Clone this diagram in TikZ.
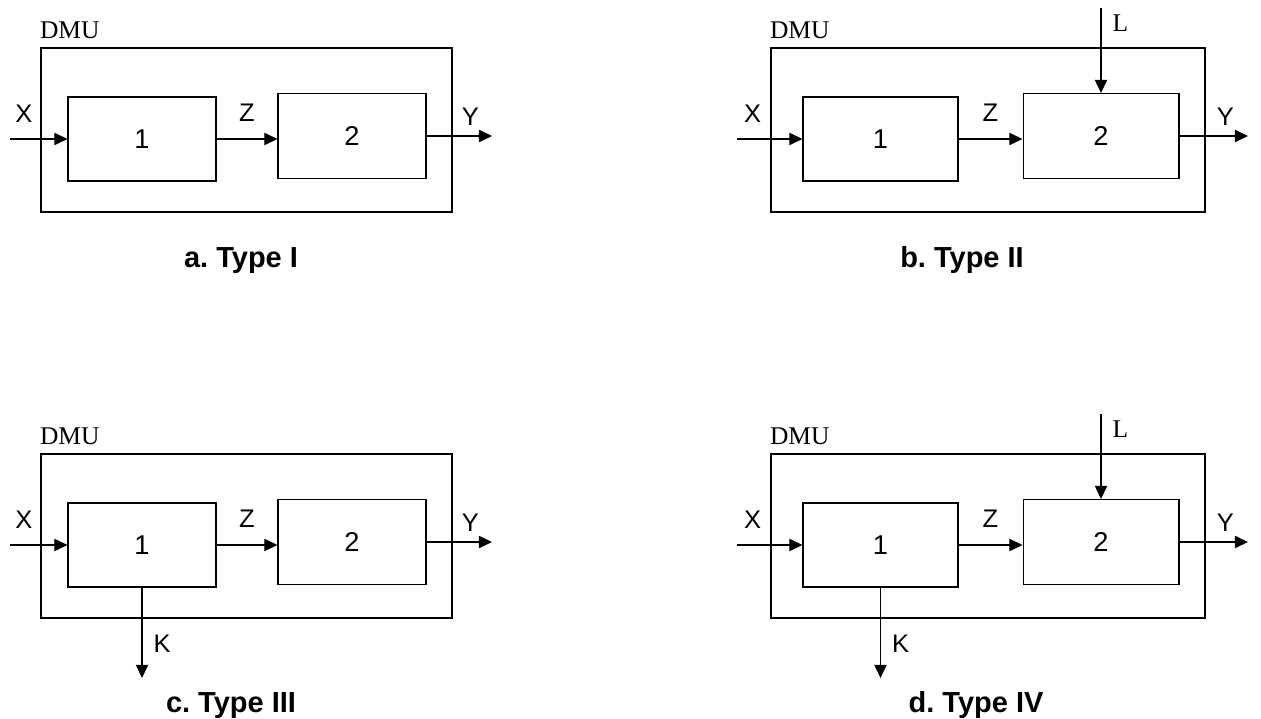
\documentclass[tikz,border=0pt]{standalone}
\usepackage{fontspec}
\setmainfont{Liberation Sans}
\newfontfamily\dmuserif{Liberation Serif}
\usetikzlibrary{arrows.meta, positioning}
\frenchspacing

\begin{document}
\begin{tikzpicture}[
    x=0.02cm, y=-0.02cm,
    dmu/.style={rectangle, draw, line width=1.5pt, minimum height=3.28cm},
    stage/.style={rectangle, draw, line width=0.6pt, font=\fontsize{15.5}{17}\selectfont},
    dmutext/.style={inner sep=0pt, font=\dmuserif\fontsize{14.5}{16}\selectfont},
    flowlbl/.style={inner sep=0pt, font=\fontsize{14.5}{16}\selectfont},
    seriflbl/.style={inner sep=0pt, font=\dmuserif\fontsize{14.5}{16}\selectfont},
    caption/.style={anchor=base, font=\bfseries\fontsize{16.5}{18}\selectfont},
    arrow/.style={-{Triangle[length=7.5pt, width=7pt]}, line width=0.7pt}
]
    \useasboundingbox (0,0) rectangle (1261,719);

    % Type I
    \node[dmu, minimum width=8.22cm] (dmuA) at (246.5,130) {};
    \node[dmutext, above right=0.16cm and 0cm of dmuA.north west] (dmuTxtA) {DMU};
    \node[stage, minimum width=2.96cm, minimum height=1.68cm] (oneA) at (142,139) {1};
    \node[stage, minimum width=2.96cm, minimum height=1.70cm] (twoA) at (352,136) {2};
    \coordinate (xInA) at (10,139);
    \coordinate (yOutA) at (492,136);
    \draw[arrow] (xInA) -- (oneA.west) node[flowlbl, pos=.24, above=0.32cm] (xLblA) {X};
    \draw[arrow] (oneA.east) -- (oneA.east -| twoA.west) node[flowlbl, midway, above=0.34cm] (zLblA) {Z};
    \draw[arrow] (twoA.east) -- (yOutA) node[flowlbl, pos=.67, above=0.2cm] (yLblA) {Y};
    \node[caption] (capA) at (241,268) {a. Type I};

    % Type II
    \node[dmu, minimum width=8.68cm] (dmuB) at (988,130) {};
    \node[dmutext, above right=0.16cm and 0cm of dmuB.north west] (dmuTxtB) {DMU};
    \node[stage, minimum width=3.10cm, minimum height=1.68cm] (oneB) at (880.5,139) {1};
    \node[stage, minimum width=3.12cm, minimum height=1.70cm] (twoB) at (1101,136) {2};
    \coordinate (xInB) at (737,139);
    \coordinate (yOutB) at (1248,136);
    \coordinate (lInB) at (1101,8);
    \draw[arrow] (xInB) -- (oneB.west) node[flowlbl, pos=.24, above=0.32cm] (xLblB) {X};
    \draw[arrow] (oneB.east) -- (oneB.east -| twoB.west) node[flowlbl, midway, above=0.34cm] (zLblB) {Z};
    \draw[arrow] (twoB.east) -- (yOutB) node[flowlbl, pos=.67, above=0.2cm] (yLblB) {Y};
    \draw[arrow] (lInB) -- (twoB.north) node[seriflbl, pos=.18, right=0.22cm] (lLblB) {L};
    \node[caption] (capB) at (962,268) {b. Type II};

    % Type III
    \node[dmu, minimum width=8.22cm] (dmuC) at (246.5,536) {};
    \node[dmutext, above right=0.16cm and 0cm of dmuC.north west] (dmuTxtC) {DMU};
    \node[stage, minimum width=2.96cm, minimum height=1.68cm] (oneC) at (142,545) {1};
    \node[stage, minimum width=2.96cm, minimum height=1.70cm] (twoC) at (352,542) {2};
    \coordinate (xInC) at (10,545);
    \coordinate (yOutC) at (492,542);
    \coordinate (kOutC) at (142,678);
    \draw[arrow] (xInC) -- (oneC.west) node[flowlbl, pos=.24, above=0.32cm] (xLblC) {X};
    \draw[arrow] (oneC.east) -- (oneC.east -| twoC.west) node[flowlbl, midway, above=0.34cm] (zLblC) {Z};
    \draw[arrow] (twoC.east) -- (yOutC) node[flowlbl, pos=.67, above=0.2cm] (yLblC) {Y};
    \draw[arrow] (oneC.south) -- (kOutC) node[flowlbl, pos=.62, right=0.22cm] (kLblC) {K};
    \node[caption] (capC) at (231,712) {c. Type III};

    % Type IV
    \node[dmu, minimum width=8.68cm] (dmuD) at (988,536) {};
    \node[dmutext, above right=0.16cm and 0cm of dmuD.north west] (dmuTxtD) {DMU};
    \node[stage, minimum width=3.10cm, minimum height=1.68cm] (oneD) at (880.5,545) {1};
    \node[stage, minimum width=3.12cm, minimum height=1.70cm] (twoD) at (1101,542) {2};
    \coordinate (xInD) at (737,545);
    \coordinate (yOutD) at (1248,542);
    \coordinate (lInD) at (1101,414);
    \coordinate (kOutD) at (880.5,678);
    \draw[arrow] (xInD) -- (oneD.west) node[flowlbl, pos=.24, above=0.32cm] (xLblD) {X};
    \draw[arrow] (oneD.east) -- (oneD.east -| twoD.west) node[flowlbl, midway, above=0.34cm] (zLblD) {Z};
    \draw[arrow] (twoD.east) -- (yOutD) node[flowlbl, pos=.67, above=0.2cm] (yLblD) {Y};
    \draw[arrow] (lInD) -- (twoD.north) node[seriflbl, pos=.18, right=0.22cm] (lLblD) {L};
    \draw[arrow] (oneD.south) -- (kOutD) node[flowlbl, pos=.62, right=0.22cm] (kLblD) {K};
    \node[caption] (capD) at (976,712) {d. Type IV};
\end{tikzpicture}
\end{document}
